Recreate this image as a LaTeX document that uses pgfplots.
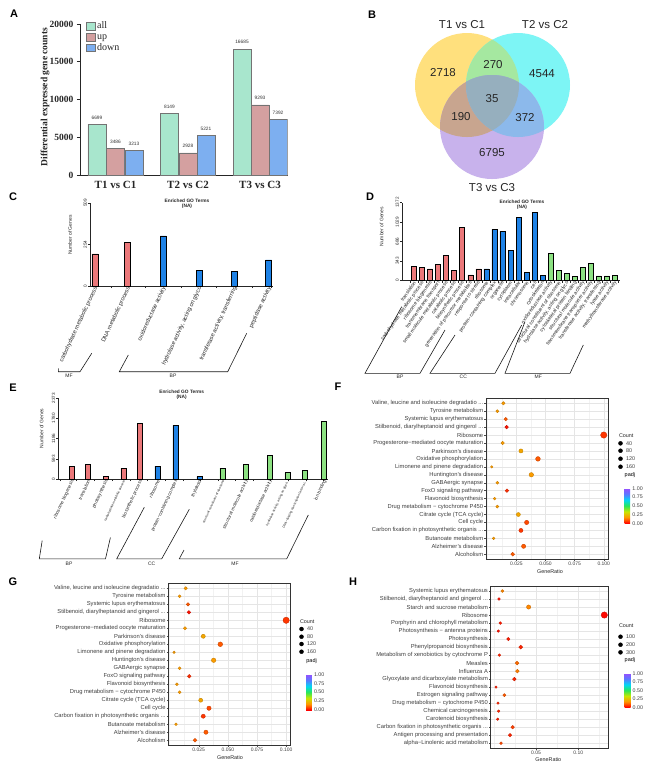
\documentclass[border=0pt]{standalone}
\usepackage{fontspec}
\setmainfont{Liberation Sans}
\newfontfamily\tnr{Liberation Serif}
\usepackage{pgfplots}
\usepackage{pgfplotstable}
\pgfplotsset{compat=1.18}
\newcommand{\fs}[1]{\fontsize{#1}{#1}\selectfont}
\newcommand{\ddd}{...}

\definecolor{allc}{RGB}{168,230,205}
\definecolor{upc}{RGB}{212,160,160}
\definecolor{downc}{RGB}{125,175,240}
\definecolor{goR}{RGB}{235,120,122}
\definecolor{goB}{RGB}{30,130,230}
\definecolor{goG}{RGB}{140,225,130}
\definecolor{vY}{RGB}{255,224,125}
\definecolor{vC}{RGB}{125,245,245}
\definecolor{vP}{RGB}{200,178,236}
\definecolor{vYC}{RGB}{165,232,160}
\definecolor{vYP}{RGB}{200,165,143}
\definecolor{vCP}{RGB}{140,185,235}
\definecolor{vYCP}{RGB}{150,175,190}

\pgfplotsset{
  colormap={padj}{rgb255(0cm)=(255,0,0) rgb255(1cm)=(255,150,0) rgb255(2cm)=(200,230,0)
    rgb255(3cm)=(40,230,90) rgb255(4cm)=(0,215,245) rgb255(5cm)=(90,120,255) rgb255(6cm)=(150,80,255)},
  mybox legend/.style={legend image code/.code={\draw[##1] (0pt,-3.8pt) rectangle (9pt,3.8pt);}},
  goax/.style={anchor=south west, scale only axis, ymin=0, enlargelimits=false,
    axis x line*=bottom, axis y line*=left, axis line style={black!85, line width=0.5pt},
    ybar, tick align=outside, major tick length=2pt, tick style={black!85, line width=0.5pt},
    yticklabel style={rotate=90, anchor=south, font=\fs{4.6}, text=black!85, inner sep=1pt},
    scaled y ticks=false, xticklabels={}},
  dotax/.style={anchor=south west, scale only axis, ymin=0.4, ymax=20.6, ytick={1,...,20},
    tick pos=left, tick align=outside, major tick length=1.6pt, minor tick length=0pt,
    tick style={black!70, line width=0.35pt},
    xmajorgrids, ymajorgrids, xminorgrids,
    major grid style={black!10, line width=0.45pt}, minor grid style={black!5, line width=0.25pt},
    axis line style={black!80, line width=0.5pt},
    yticklabel style={font=\fs{5.8}, text=black!75, inner sep=1pt},
    xticklabel style={font=\fs{5}, text=black!75, inner sep=1pt},
    colormap name=padj, point meta min=0, point meta max=1, colorbar},
  dots/.style={scatter, only marks, mark=*, point meta=\thisrow{padj},
    visualization depends on={0.8+#1*sqrt(\thisrow{count}) \as \msz},
    scatter/@pre marker code/.append style={/tikz/mark size=\msz}},
  cntlegend/.style={scatter, only marks, mark=*, point meta=\thisrow{c},
    scatter/use mapped color={draw=black, fill=black},
    visualization depends on={0.8+#1*sqrt(\thisrow{c}) \as \msz},
    visualization depends on={value \thisrow{c} \as \cntlab},
    scatter/@pre marker code/.append style={/tikz/mark size=\msz},
    nodes near coords={\cntlab},
    nodes near coords style={anchor=west, xshift=5.5pt, inner sep=0pt, font=\fs{5.4}, text=black!75}},
}

\pgfplotstableread{
row ratio count padj
20 0.0138 23 0.18
19 0.0086 15 0.18
18 0.0158 27 0.10
17 0.0166 28 0.02
16 0.1000 170 0.06
15 0.0132 22 0.18
14 0.0289 49 0.20
13 0.0435 74 0.10
12 0.0038 6 0.18
11 0.0378 64 0.18
10 0.0086 15 0.18
9 0.0169 29 0.05
8 0.0063 11 0.18
7 0.0086 15 0.18
6 0.0267 45 0.20
5 0.0338 57 0.08
4 0.0289 49 0.06
3 0.0055 9 0.18
2 0.0312 53 0.10
1 0.0218 37 0.10
}\Fdata

\pgfplotstableread{
row ratio count padj
20 0.0102 26 0.15
19 0.0063 16 0.02
18 0.0413 103 0.15
17 0.1307 327 0.01
16 0.0079 20 0.03
15 0.0055 14 0.02
14 0.0173 43 0.03
13 0.0319 80 0.04
12 0.0067 17 0.04
11 0.0276 69 0.12
10 0.0280 70 0.14
9 0.0244 61 0.04
8 0.0028 7 0.03
7 0.0126 32 0.10
6 0.0051 13 0.04
5 0.0059 15 0.04
4 0.0047 12 0.03
3 0.0224 56 0.07
2 0.0193 48 0.04
1 0.0087 22 0.08
}\Hdata

\begin{document}
\begin{tikzpicture}
\useasboundingbox[fill=white] (0,0) rectangle (650pt,-769pt);

% ---------- canvas in pixel units (y down): Venn, labels, brackets, legends
\begin{axis}[at={(0pt,0pt)}, anchor=north west, scale only axis, width=650pt, height=769pt,
  xmin=0, xmax=650, ymin=0, ymax=769, y dir=reverse, hide axis, clip=false]
% Venn diagram
\fill[vY] (axis cs:467,85) circle[radius=52pt];
\fill[vC] (axis cs:518,85) circle[radius=52pt];
\fill[vP] (axis cs:492,127) circle[radius=52pt];
\begin{scope}\clip (axis cs:467,85) circle[radius=52pt];
  \fill[vYC] (axis cs:518,85) circle[radius=52pt];\end{scope}
\begin{scope}\clip (axis cs:467,85) circle[radius=52pt];
  \fill[vYP] (axis cs:492,127) circle[radius=52pt];\end{scope}
\begin{scope}\clip (axis cs:518,85) circle[radius=52pt];
  \fill[vCP] (axis cs:492,127) circle[radius=52pt];\end{scope}
\begin{scope}\clip (axis cs:467,85) circle[radius=52pt];
  \clip (axis cs:518,85) circle[radius=52pt];
  \fill[vYCP] (axis cs:492,127) circle[radius=52pt];\end{scope}
\begin{scope}[every node/.style={font=\fs{11.5}, text=black!85}]
\node at (axis cs:462,25) {T1 vs C1};
\node at (axis cs:545,25) {T2 vs C2};
\node at (axis cs:492,188) {T3 vs C3};
\node at (axis cs:443,73) {2718};
\node at (axis cs:493,65) {270};
\node at (axis cs:542,74) {4544};
\node at (axis cs:492,99) {35};
\node at (axis cs:461,117) {190};
\node at (axis cs:525,118) {372};
\node at (axis cs:492,153) {6795};
\end{scope}
% panel letters
\begin{scope}[every node/.style={font=\bfseries\fs{11}}]
\node at (axis cs:14,14) {A};
\node at (axis cs:372,15) {B};
\node at (axis cs:13,197) {C};
\node at (axis cs:370,197) {D};
\node at (axis cs:13,388) {E};
\node at (axis cs:338,387) {F};
\node at (axis cs:13,582) {G};
\node at (axis cs:353,582) {H};
\end{scope}
% panel A y label
\node[rotate=90, font=\tnr\bfseries\fs{9.5}, text=black!85] at (axis cs:45,97) {Differential expressed gene counts};
% GO titles and y labels
\begin{scope}[every node/.style={font=\bfseries\fs{4.8}, text=black!85, inner sep=0pt}]
\node at (axis cs:187,201) {Enriched GO Terms};
\node at (axis cs:187,206.5) {(NA)};
\node at (axis cs:522,202) {Enriched GO Terms};
\node at (axis cs:522,207.5) {(NA)};
\node at (axis cs:181.7,391.7) {Enriched GO Terms};
\node at (axis cs:181.7,397.2) {(NA)};
\end{scope}
\begin{scope}[every node/.style={font=\fs{5}, text=black!85, rotate=90}]
\node at (axis cs:70,235) {Number of Genes};
\node at (axis cs:381.7,226.7) {Number of Genes};
\node at (axis cs:41.7,428.3) {Number of Genes};
\end{scope}
% GO group brackets
\begin{scope}[line width=0.6pt, black!90]
\draw (axis cs:58.3,368.3) -- (axis cs:58.3,371.7) -- (axis cs:80,371.7) -- (axis cs:91.7,353.3);
\draw (axis cs:128.3,355) -- (axis cs:119.3,371.7) -- (axis cs:227.7,371.7) -- (axis cs:246.7,333.3);
\draw (axis cs:401.7,306.7) -- (axis cs:365,373.3) -- (axis cs:420,373.3) -- (axis cs:445,330);
\draw (axis cs:455,335) -- (axis cs:430,373.3) -- (axis cs:495,373.3) -- (axis cs:521.7,325);
\draw (axis cs:525,321.7) -- (axis cs:505,373.3) -- (axis cs:570,373.3) -- (axis cs:583.3,345);
\draw (axis cs:42.2,540.5) -- (axis cs:39.3,558.8) -- (axis cs:105.5,558.8) -- (axis cs:110.4,537.5);
\draw (axis cs:144.3,507.3) -- (axis cs:116.7,558.8) -- (axis cs:161.7,558.8) -- (axis cs:189.3,509.3);
\draw (axis cs:184,550) -- (axis cs:179.3,558.8) -- (axis cs:286.7,558.8) -- (axis cs:308.3,515);
\end{scope}
\begin{scope}[every node/.style={font=\fs{5}, text=black!85}]
\node at (axis cs:69,376) {MF};
\node at (axis cs:173,376) {BP};
\node at (axis cs:400,377) {BP};
\node at (axis cs:463.3,377) {CC};
\node at (axis cs:538.3,377) {MF};
\node at (axis cs:69,564) {BP};
\node at (axis cs:151.7,564) {CC};
\node at (axis cs:235,564) {MF};
\end{scope}
% dot plot x labels and Count titles
\begin{scope}[every node/.style={font=\fs{5.4}, text=black!85}]
\node at (axis cs:550,572) {GeneRatio};
\node at (axis cs:230,757.3) {GeneRatio};
\node at (axis cs:548.3,759.3) {GeneRatio};
\node[anchor=west] at (axis cs:615.5,436) {Count};
\node[anchor=west] at (axis cs:296.5,621.7) {Count};
\node[anchor=west] at (axis cs:615.5,626) {Count};
\end{scope}
% Count size legends
\addplot[cntlegend=0.18] table {
x y c
620.5 443.3 40
620.5 450.7 80
620.5 458.7 120
620.5 466.7 160
};
\addplot[cntlegend=0.18] table {
x y c
301.5 629 40
301.5 636.7 80
301.5 644 120
301.5 651.7 160
};
\addplot[cntlegend=0.13] table {
x y c
620.5 636.7 100
620.5 644.7 200
620.5 652.3 300
};
\end{axis}

% ---------- A: DEG counts
\begin{axis}[at={(80pt,-175pt)}, anchor=south west, scale only axis, width=207.5pt, height=151pt,
  xmin=80, xmax=287.5, ymin=0, ymax=20000, enlargelimits=false, scaled y ticks=false,
  axis x line*=bottom, axis y line*=left, axis line style={black!85, line width=0.8pt},
  ybar, bar width=18pt,
  xtick={115.5,188,260}, xticklabels={T1 vs C1,T2 vs C2,T3 vs C3},
  xticklabel style={font=\tnr\bfseries\fs{11}, text=black!85},
  ytick={0,5000,10000,15000,20000}, yticklabels={0,5000,10000,15000,20000},
  yticklabel style={font=\tnr\bfseries\fs{9.5}, text=black!85},
  tick align=outside, major tick length=3pt, tick style={black!85, line width=0.8pt},
  xtick style={draw=none},
  point meta=explicit symbolic, nodes near coords,
  nodes near coords style={font=\fs{4.8}, text=black!80, yshift=1.5pt},
  legend style={at={(0.03,1.02)}, anchor=north west, draw=none, fill=none,
    font=\tnr\fs{10}, text=black!85, inner sep=0pt, row sep=0pt,
    nodes={inner sep=1.2pt, text height=6.6pt, text depth=1.7pt}},
  legend cell align=left]
\addplot[fill=allc, draw=black!55, line width=0.5pt, bar shift=0pt, mybox legend]
  coordinates {(97,6699)[6699] (169.5,8149)[8149] (242,16685)[16685]};
\addplot[fill=upc, draw=black!55, line width=0.5pt, bar shift=0pt, mybox legend]
  coordinates {(115.5,3486)[3486] (188,2928)[2928] (260,9293)[9293]};
\addplot[fill=downc, draw=black!55, line width=0.5pt, bar shift=0pt, mybox legend]
  coordinates {(134,3213)[3213] (206,5221)[5221] (278,7392)[7392]};
\legend{all,up,down}
\end{axis}

% ---------- C: GO bars
\begin{axis}[goax, at={(90pt,-286pt)}, width=183pt, height=83pt, xmin=90, xmax=273, ymax=509,
  ytick={0,254,509}, yticklabels={0,254,509}, bar width=6pt,
  xtick={111.7,145.7,181.7,216.7,252.3,271.7},
  extra x ticks={95,127.7,163.3,199,234.3,268.7},
  extra x tick labels={carbohydrate metabolic process,DNA metabolic process,oxidoreductase activity,
    {hydrolase activity, acting on glyco},{transferase activity, transferring},peptidase activity},
  extra x tick style={major tick length=0pt, xticklabel style={rotate=65, anchor=east,
    font=\fs{5.8}, text=black!85, inner sep=0.5pt, yshift=-1.5pt}}]
\addplot[fill=goR, draw=black, line width=0.5pt, bar shift=0pt] coordinates {(95,197) (127.7,267)};
\addplot[fill=goB, draw=black, line width=0.5pt, bar shift=0pt]
  coordinates {(163.3,308) (199,98) (234.3,92) (268.7,160)};
\end{axis}

% ---------- D: GO bars
\begin{axis}[goax, at={(402pt,-280.5pt)}, width=218pt, height=78pt, xmin=402, xmax=620, ymax=1372,
  ytick={0,343,686,1029,1372}, yticklabels={0,343,686,1029,1372}, bar width=5pt,
  xtick={410,418,...,618},
  extra x ticks={414,422,430.1,438.1,446.2,454.2,462.2,470.3,478.3,486.4,494.4,502.4,510.5,518.5,
    526.6,534.6,542.6,550.7,558.7,566.8,574.8,582.8,590.9,598.9,607,615},
  extra x tick labels={translation,carbohydrate metabolic process,ribosome biogenesis,
    transmembrane transport,small molecule metabolic process,catabolic process,biosynthetic process,
    generation of precursor metabolites,response to stress,ribosome,protein−containing complex,
    organelle,cytoplasm,intracellular,chromosome,cell,cytoskeleton,oxidoreductase activity,
    structural constituent of ribosome,{hydrolase activity, acting on glyco},cytoskeletal protein binding,
    structural molecule activity,transmembrane transporter activity,{transferase activity, transferring},
    lyase activity,methyltransferase activity},
  extra x tick style={major tick length=0pt, xticklabel style={rotate=55, anchor=east,
    font=\fs{5}, text=black!85, inner sep=0.5pt, yshift=-1.5pt}}]
\addplot[fill=goR, draw=black, line width=0.5pt, bar shift=0pt] coordinates {
  (414,244) (422,232) (430.1,203) (438.1,279) (446.2,436) (454.2,174) (462.2,930) (470.3,99) (478.3,203)};
\addplot[fill=goB, draw=black, line width=0.5pt, bar shift=0pt] coordinates {
  (486.4,203) (494.4,900) (502.4,866) (510.5,535) (518.5,1104) (526.6,139) (534.6,1197) (542.6,93)};
\addplot[fill=goG, draw=black, line width=0.5pt, bar shift=0pt] coordinates {
  (550.7,471) (558.7,174) (566.8,122) (574.8,70) (582.8,227) (590.9,296) (598.9,81) (607,81) (615,87)};
\end{axis}

% ---------- E: GO bars
\begin{axis}[goax, at={(58.3pt,-479pt)}, width=270pt, height=81pt, xmin=58.3, xmax=328.3, ymax=2373,
  ytick={0,593,1186,1780,2373}, yticklabels={0,593,1186,1780,2373}, bar width=5pt,
  xtick={60,76.7,94.3,112.3,130,147.7,165,183.3,200,218.3,235,253.3,270,288.3,306.7,323.3},
  extra x ticks={71.7,87.7,105.7,123.3,140,157.3,175.3,199.3,222.3,245.7,269.7,287.3,305,324},
  extra x tick labels={ribosome biogenesis,translation,photosynthesis,
    {\fs{3.2}carbohydrate metabolic process},biosynthetic process,ribosome,protein−containing complex,
    thylakoid,{\fs{3.2}structural constituent of ribosome},structural molecule activity,
    oxidoreductase activity,{\fs{3.2}hydrolase activity, acting on glyco\ddd},
    {\fs{3.2}DNA−binding transcription factor ac\ddd},ion binding},
  extra x tick style={major tick length=0pt, xticklabel style={rotate=65, anchor=east,
    font=\fs{4.6}, text=black!85, inner sep=0.5pt, yshift=-1.5pt}}]
\addplot[fill=goR, draw=black, line width=0.5pt, bar shift=0pt] coordinates {
  (71.7,366) (87.7,425) (105.7,79) (123.3,316) (140,1640)};
\addplot[fill=goB, draw=black, line width=0.5pt, bar shift=0pt] coordinates {
  (157.3,375) (175.3,1571) (199.3,69)};
\addplot[fill=goG, draw=black, line width=0.5pt, bar shift=0pt] coordinates {
  (222.3,316) (245.7,425) (269.7,701) (287.3,188) (305,247) (324,1690)};
\end{axis}

% ---------- F: KEGG dot plot
\begin{axis}[dotax, at={(486pt,-559pt)}, width=122.3pt, height=160.5pt,
  xmin=-0.0011, xmax=0.1039, xtick={0.025,0.05,0.075,0.1}, xticklabels={0.025,0.050,0.075,0.100},
  minor xtick={0,0.0125,0.0375,0.0625,0.0875},
  yticklabels={Alcoholism,Alzheimer's disease,Butanoate metabolism,Carbon fixation in photosynthetic organis \ddd,
    Cell cycle,Citrate cycle (TCA cycle),Drug metabolism − cytochrome P450,Flavonoid biosynthesis,
    FoxO signaling pathway,GABAergic synapse,Huntington's disease,Limonene and pinene degradation,
    Oxidative phosphorylation,Parkinson's disease,Progesterone−mediated oocyte maturation,Ribosome,
    {Stilbenoid, diarylheptanoid and gingerol \ddd},Systemic lupus erythematosus,Tyrosine metabolism,
    {Valine, leucine and isoleucine degradatio \ddd}},
  colorbar style={scale only axis, width=5.7pt, height=35pt, at={(parent axis.south east)},
    anchor=south west, xshift=7.7pt, yshift=35.7pt, ytick={0,0.25,0.5,0.75,1},
    yticklabels={0.00,0.25,0.50,0.75,1.00}, yticklabel pos=right,
    yticklabel style={font=\fs{5.3}, text=black!75, xshift=2pt, inner sep=0pt},
    major tick length=0pt, axis line style={draw=none}, title={padj},
    title style={at={(0,1)}, anchor=south west, inner sep=0pt, yshift=4.5pt, font=\fs{5.5}}}]
\addplot[dots=0.18] table[x=ratio, y=row] {\Fdata};
\end{axis}

% ---------- G: KEGG dot plot
\begin{axis}[dotax, at={(168.3pt,-745pt)}, width=122.4pt, height=161.5pt,
  xmin=-0.0011, xmax=0.1039, xtick={0.025,0.05,0.075,0.1}, xticklabels={0.025,0.050,0.075,0.100},
  minor xtick={0,0.0125,0.0375,0.0625,0.0875},
  yticklabels={Alcoholism,Alzheimer's disease,Butanoate metabolism,Carbon fixation in photosynthetic organis \ddd,
    Cell cycle,Citrate cycle (TCA cycle),Drug metabolism − cytochrome P450,Flavonoid biosynthesis,
    FoxO signaling pathway,GABAergic synapse,Huntington's disease,Limonene and pinene degradation,
    Oxidative phosphorylation,Parkinson's disease,Progesterone−mediated oocyte maturation,Ribosome,
    {Stilbenoid, diarylheptanoid and gingerol \ddd},Systemic lupus erythematosus,Tyrosine metabolism,
    {Valine, leucine and isoleucine degradatio \ddd}},
  colorbar style={scale only axis, width=5.6pt, height=35.7pt, at={(parent axis.south east)},
    anchor=south west, xshift=7pt, yshift=35pt, ytick={0,0.25,0.5,0.75,1},
    yticklabels={0.00,0.25,0.50,0.75,1.00}, yticklabel pos=right,
    yticklabel style={font=\fs{5.3}, text=black!75, xshift=2pt, inner sep=0pt},
    major tick length=0pt, axis line style={draw=none}, title={padj},
    title style={at={(0,1)}, anchor=south west, inner sep=0pt, yshift=4.5pt, font=\fs{5.5}}}]
\addplot[dots=0.18] table[x=ratio, y=row] {\Fdata};
\end{axis}

% ---------- H: KEGG dot plot
\begin{axis}[dotax, at={(490.7pt,-748pt)}, width=117.6pt, height=161.8pt,
  xmin=-0.0035, xmax=0.1354, xtick={0.05,0.1}, xticklabels={0.05,0.10},
  minor xtick={0,0.025,0.075,0.125},
  yticklabels={alpha−Linolenic acid metabolism,Antigen processing and presentation,
    Carbon fixation in photosynthetic organis \ddd,Carotenoid biosynthesis,Chemical carcinogenesis,
    Drug metabolism − cytochrome P450,Estrogen signaling pathway,Flavonoid biosynthesis,
    Glyoxylate and dicarboxylate metabolism,Influenza A,Measles,Metabolism of xenobiotics by cytochrome P,
    Phenylpropanoid biosynthesis,Photosynthesis,Photosynthesis − antenna proteins,
    Porphyrin and chlorophyll metabolism,Ribosome,Starch and sucrose metabolism,
    {Stilbenoid, diarylheptanoid and gingerol \ddd},Systemic lupus erythematosus},
  colorbar style={scale only axis, width=6pt, height=34pt, at={(parent axis.south east)},
    anchor=south west, xshift=7.7pt, yshift=40.7pt, ytick={0,0.25,0.5,0.75,1},
    yticklabels={0.00,0.25,0.50,0.75,1.00}, yticklabel pos=right,
    yticklabel style={font=\fs{5.3}, text=black!75, xshift=2pt, inner sep=0pt},
    major tick length=0pt, axis line style={draw=none}, title={padj},
    title style={at={(0,1)}, anchor=south west, inner sep=0pt, yshift=4.5pt, font=\fs{5.5}}}]
\addplot[dots=0.13] table[x=ratio, y=row] {\Hdata};
\end{axis}
\end{tikzpicture}
\end{document}
